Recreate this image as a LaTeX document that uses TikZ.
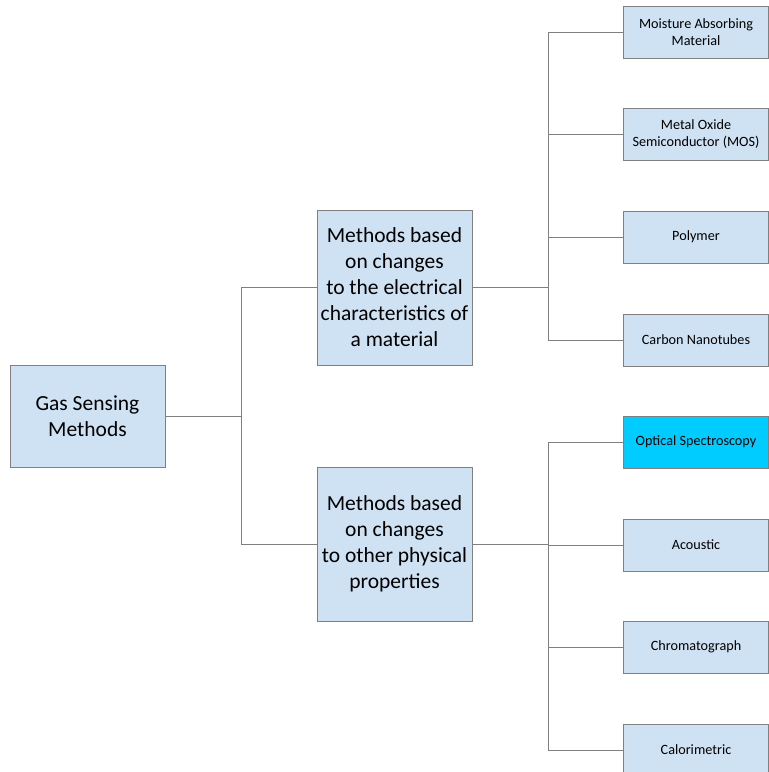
\documentclass[tikz,border=0pt]{standalone}
\usepackage{fontspec}
\setmainfont{Carlito}
\definecolor{boxblue}{RGB}{207,226,243}
\definecolor{optcyan}{RGB}{0,204,255}
\definecolor{linegray}{RGB}{128,128,128}
\begin{document}
\begin{tikzpicture}[x=1pt,y=-1pt,
    bigbox/.style={draw=linegray,fill=boxblue,line width=0.8pt,align=center,
      minimum width=155pt,inner sep=0pt,font=\fontsize{21.5}{26}\selectfont},
    leafbox/.style={draw=linegray,fill=boxblue,line width=0.8pt,align=center,
      minimum width=145pt,minimum height=52pt,inner sep=0pt,
      font=\fontsize{14.2}{17}\selectfont},
    link/.style={draw=linegray,line width=0.8pt}]
      \useasboundingbox (0,0) rectangle (769,772) ;
      % root and middle level
      \node[bigbox,minimum height=102pt] (root) at (87.5,416) {Gas Sensing\\Methods} ;
      \node[bigbox,minimum height=155pt] (elec) at (394.5,287.5) %
        {Methods based\\on changes\\to the electrical\\characteristics of\\a material} ;
      \node[bigbox,minimum height=154pt] (phys) at (394.5,544) %
        {Methods based\\on changes\\to other physical\\properties} ;
      % leaves
      \node[leafbox] (moist) at (696,32) {Moisture Absorbing\\Material} ;
      \node[leafbox] (mos) at (696,134.5) {Metal Oxide\\Semiconductor (MOS)} ;
      \node[leafbox] (poly) at (696,237) {Polymer} ;
      \node[leafbox] (cnt) at (696,340) {Carbon Nanotubes} ;
      \node[leafbox,fill=optcyan] (opt) at (696,442) {Optical Spectroscopy} ;
      \node[leafbox] (acou) at (696,545) {Acoustic} ;
      \node[leafbox] (chrom) at (696,647) {Chromatograph} ;
      \node[leafbox] (calor) at (696,750) {Calorimetric} ;
      % branch points
      \coordinate (J0) at (241,416) ;
      \coordinate (J1) at (548,287.5) ;
      \coordinate (J2) at (548,544) ;
      \draw[link] (root.east) -- (J0) ;
      \draw[link] (J0 |- elec.west) -- (J0 |- phys.west) ;
      \draw[link] (J0 |- elec.west) -- (elec.west) ;
      \draw[link] (J0 |- phys.west) -- (phys.west) ;
      \draw[link] (elec.east) -- (J1) ;
      \draw[link] (J1 |- moist.west) -- (J1 |- cnt.west) ;
      \foreach \n in {moist,mos,poly,cnt}
        \draw[link] (J1 |- \n.west) -- (\n.west) ;
      \draw[link] (phys.east) -- (J2) ;
      \draw[link] (J2 |- opt.west) -- (J2 |- calor.west) ;
      \foreach \n in {opt,acou,chrom,calor}
        \draw[link] (J2 |- \n.west) -- (\n.west) ;
    \end{tikzpicture}
\end{document}
